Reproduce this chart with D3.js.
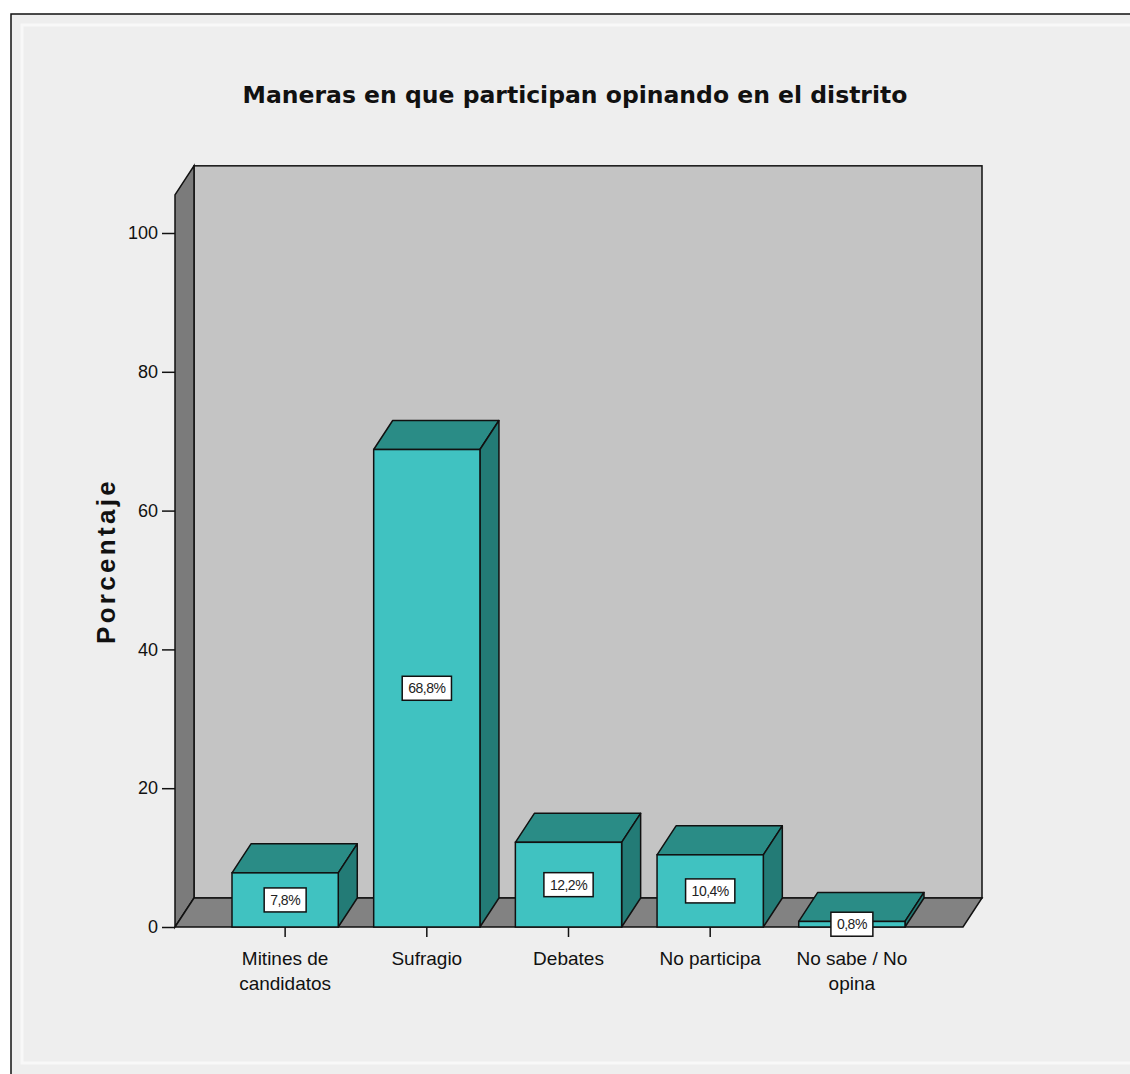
<!DOCTYPE html>
<html>
<head>
<meta charset="utf-8">
<script src="https://cdn.jsdelivr.net/npm/d3@7"></script>
<style>
  html, body { margin: 0; padding: 0; background: #ffffff; }
  svg { display: block; }
</style>
</head>
<body>
<div id="chart"></div>
<script>
const categories = ['Mitines de candidatos', 'Sufragio', 'Debates', 'No participa', 'No sabe / No opina'];
const categoryLines = [['Mitines de', 'candidatos'], ['Sufragio'], ['Debates'], ['No participa'], ['No sabe / No', 'opina']];
const percentages = [7.8, 68.8, 12.2, 10.4, 0.8];
const valueLabels = ['7,8%', '68,8%', '12,2%', '10,4%', '0,8%'];
const yTicks = [0, 20, 40, 60, 80, 100];

const width = 1130;
const height = 1074;
const depthX = 19;
const depthY = 29;

const svg = d3.select('#chart').append('svg')
  .attr('width', width)
  .attr('height', height);

// outer panel
svg.append('rect')
  .attr('x', 11).attr('y', 14)
  .attr('width', width + 20).attr('height', height + 20)
  .attr('fill', '#eeeeee')
  .attr('stroke', '#111')
  .attr('stroke-width', 1.5);
svg.append('rect')
  .attr('x', 22).attr('y', 25)
  .attr('width', width - 20).attr('height', 1038)
  .attr('fill', 'none')
  .attr('stroke', '#f8f8f8')
  .attr('stroke-width', 3);

const y = d3.scaleLinear().domain([0, 100]).range([927, 233]);
const x = d3.scaleBand()
  .domain(categories)
  .range([232, 905])
  .paddingInner(0.25)
  .paddingOuter(0);

const axisLeft = 175;
const axisRight = 963;
const wallTop = y(105.5);
const base = y(0);

// back wall
svg.append('rect')
  .attr('x', axisLeft + depthX).attr('y', wallTop - depthY)
  .attr('width', axisRight - axisLeft).attr('height', base - wallTop)
  .attr('fill', '#c4c4c4')
  .attr('stroke', '#111')
  .attr('stroke-width', 1.5);

// left wall
svg.append('path')
  .attr('d', `M${axisLeft},${wallTop}L${axisLeft + depthX},${wallTop - depthY}L${axisLeft + depthX},${base - depthY}L${axisLeft},${base}Z`)
  .attr('fill', '#7b7b7b')
  .attr('stroke', '#111')
  .attr('stroke-width', 1.5);

// floor
svg.append('path')
  .attr('d', `M${axisLeft},${base}L${axisLeft + depthX},${base - depthY}L${axisRight + depthX},${base - depthY}L${axisRight},${base}Z`)
  .attr('fill', '#828282')
  .attr('stroke', '#111')
  .attr('stroke-width', 1.5);

// bars
const bars = svg.append('g')
  .selectAll('g')
  .data(categories)
  .enter()
  .append('g');

bars.append('path')
  .attr('d', (d, i) => {
    const x0 = x(d), x1 = x(d) + x.bandwidth(), yt = y(percentages[i]);
    return `M${x0},${yt}L${x0 + depthX},${yt - depthY}L${x1 + depthX},${yt - depthY}L${x1},${yt}Z`;
  })
  .attr('fill', '#2a8c86')
  .attr('stroke', '#111')
  .attr('stroke-width', 1.5)
  .attr('stroke-linejoin', 'round');

bars.append('path')
  .attr('d', (d, i) => {
    const x1 = x(d) + x.bandwidth(), yt = y(percentages[i]);
    return `M${x1},${yt}L${x1 + depthX},${yt - depthY}L${x1 + depthX},${base - depthY}L${x1},${base}Z`;
  })
  .attr('fill', '#237b76')
  .attr('stroke', '#111')
  .attr('stroke-width', 1.5)
  .attr('stroke-linejoin', 'round');

bars.append('rect')
  .attr('x', (d) => x(d))
  .attr('y', (d, i) => y(percentages[i]))
  .attr('width', x.bandwidth())
  .attr('height', (d, i) => base - y(percentages[i]))
  .attr('fill', '#40c2c1')
  .attr('stroke', '#111')
  .attr('stroke-width', 1.5);

// y axis
const yAxis = svg.append('g')
  .attr('transform', `translate(${axisLeft},0)`)
  .call(d3.axisLeft(y).tickValues(yTicks).tickSize(13).tickPadding(4));
yAxis.select('.domain').remove();
yAxis.selectAll('line').attr('stroke', '#111').attr('stroke-width', 1.5);
yAxis.selectAll('text')
  .attr('font-family', 'Liberation Sans, Arial, sans-serif')
  .attr('font-size', 18)
  .attr('fill', '#111');

// x axis ticks and labels
const xAxis = svg.append('g')
  .attr('transform', `translate(0,${base})`)
  .call(d3.axisBottom(x).tickSize(10).tickFormat(''));
xAxis.select('.domain').remove();
xAxis.selectAll('line').attr('stroke', '#111').attr('stroke-width', 1.5);

const xLabels = svg.append('g')
  .selectAll('text')
  .data(categories)
  .enter()
  .append('text')
  .attr('x', (d) => x(d) + x.bandwidth() / 2)
  .attr('y', 965)
  .attr('text-anchor', 'middle')
  .attr('font-family', 'Liberation Sans, Arial, sans-serif')
  .attr('font-size', 19)
  .attr('fill', '#111');

xLabels.selectAll('tspan')
  .data((d, i) => categoryLines[i])
  .enter()
  .append('tspan')
  .attr('x', function () { return this.parentNode.getAttribute('x'); })
  .attr('dy', (d, i) => (i === 0 ? 0 : 25))
  .text((d) => d);

// value labels
const labels = svg.append('g')
  .selectAll('g')
  .data(categories)
  .enter()
  .append('g')
  .attr('transform', (d, i) => `translate(${x(d) + x.bandwidth() / 2}, ${(y(percentages[i]) + base) / 2})`);

labels.append('text')
  .attr('text-anchor', 'middle')
  .attr('dy', '0.35em')
  .attr('font-family', 'Liberation Sans, Arial, sans-serif')
  .attr('font-size', 14)
  .attr('letter-spacing', -0.5)
  .attr('fill', '#222')
  .text((d, i) => valueLabels[i])
  .each(function () {
    const bb = this.getBBox();
    d3.select(this.parentNode).insert('rect', 'text')
      .attr('x', bb.x - 6).attr('y', -12)
      .attr('width', bb.width + 12).attr('height', 24)
      .attr('fill', '#ffffff')
      .attr('stroke', '#111')
      .attr('stroke-width', 1.5);
  });

// y title
svg.append('text')
  .attr('transform', 'translate(115,561) rotate(-90)')
  .attr('text-anchor', 'middle')
  .attr('font-family', 'Liberation Sans, Arial, sans-serif')
  .attr('font-weight', 'bold')
  .attr('font-size', 26)
  .attr('letter-spacing', 3.3)
  .attr('fill', '#111')
  .text('Porcentaje');

// title
svg.append('text')
  .attr('x', 575)
  .attr('y', 103)
  .attr('text-anchor', 'middle')
  .attr('font-family', 'DejaVu Sans, Verdana, sans-serif')
  .attr('font-weight', 'bold')
  .attr('font-size', 23.5)
  .attr('fill', '#111')
  .text('Maneras en que participan opinando en el distrito');
</script>
</body>
</html>
